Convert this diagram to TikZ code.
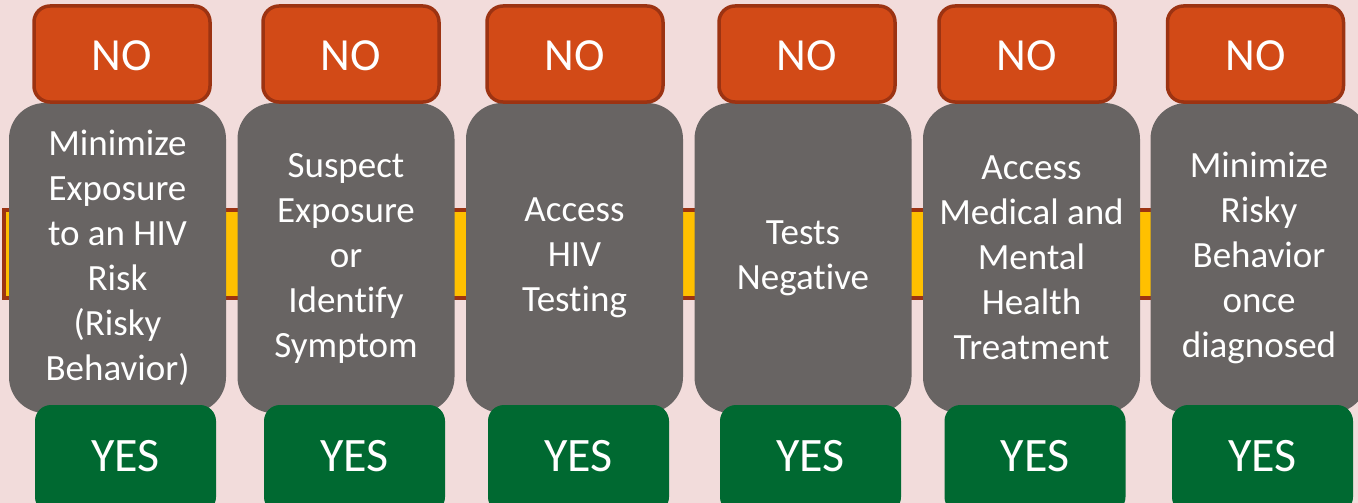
\documentclass[tikz,border=0pt]{standalone}
\usepackage{fontspec}
\setmainfont[Ligatures=NoCommon]{Carlito}
\definecolor{bgpink}{HTML}{F2DCDB}
\definecolor{noorange}{HTML}{D24A17}
\definecolor{noborder}{HTML}{9C3312}
\definecolor{stepgray}{HTML}{686463}
\definecolor{yesgreen}{HTML}{006931}
\definecolor{baryellow}{HTML}{FFC000}
\tikzset{
  nobox/.style={draw=noborder, line width=3.5pt, fill=noorange, rounded corners=16pt,
    minimum width=176pt, minimum height=96pt, inner sep=0pt},
  nolabel/.style={text=white, font=\fontsize{46}{50}\selectfont, inner sep=0pt},
  graybox/.style={fill=stepgray, rounded corners=36pt, minimum width=217pt,
    minimum height=310pt, inner sep=0pt, text=white, align=center,
    font=\fontsize{37}{45}\selectfont},
  yesbox/.style={fill=yesgreen, rounded corners=16pt, minimum width=181pt,
    minimum height=108pt, inner sep=0pt},
  yeslabel/.style={text=white, font=\fontsize{48}{52}\selectfont, inner sep=0pt}
}
\begin{document}
\begin{tikzpicture}[x=1pt,y=-1pt]
\path[use as bounding box, fill=bgpink] (0,0) rectangle (1358,503);
\clip (0,0) rectangle (1358,503);
% yellow bar
\draw[draw=noborder, line width=4pt, fill=baryellow] (4,210) rectangle (1370,298);
% gray step boxes
\node[graybox] (g1) at (117.5,258) {Minimize\\Exposure\\to an HIV\\Risk\\(Risky\\Behavior)};
\node[graybox] (g2) at (346,258) {Suspect\\Exposure\\or\\Identify\\Symptom};
\node[graybox] (g3) at (574.5,258) {Access\\HIV\\Testing};
\node[graybox] (g4) at (803,258) {Tests\\Negative};
\node[graybox] (g5) at (1031.5,258) {Access\\Medical and\\Mental\\Health\\Treatment};
\node[graybox] (g6) at (1259,258) {Minimize\\Risky\\Behavior\\once\\diagnosed};
% NO boxes
\node[nobox] (n1) at (122,54) {};
\node[nobox] (n2) at (351,54) {};
\node[nobox] (n3) at (575,54) {};
\node[nobox] (n4) at (807,54) {};
\node[nobox] (n5) at (1027,54) {};
\node[nobox] (n6) at (1255.5,54) {};
\node[nolabel] (m1) at (122,56) {NO};
\node[nolabel] (m2) at (351,56) {NO};
\node[nolabel] (m3) at (575,56) {NO};
\node[nolabel] (m4) at (807,56) {NO};
\node[nolabel] (m5) at (1027,56) {NO};
\node[nolabel] (m6) at (1255.5,56) {NO};
% YES boxes
\node[yesbox] (y1) at (125.5,459) {};
\node[yesbox] (y2) at (354.5,459) {};
\node[yesbox] (y3) at (578.5,459) {};
\node[yesbox] (y4) at (810.5,459) {};
\node[yesbox] (y5) at (1035,459) {};
\node[yesbox] (y6) at (1262.5,459) {};
\node[yeslabel] (t1) at (125.5,456) {YES};
\node[yeslabel] (t2) at (354.5,456) {YES};
\node[yeslabel] (t3) at (578.5,456) {YES};
\node[yeslabel] (t4) at (810.5,456) {YES};
\node[yeslabel] (t5) at (1035,456) {YES};
\node[yeslabel] (t6) at (1262.5,456) {YES};
\end{tikzpicture}
\end{document}
